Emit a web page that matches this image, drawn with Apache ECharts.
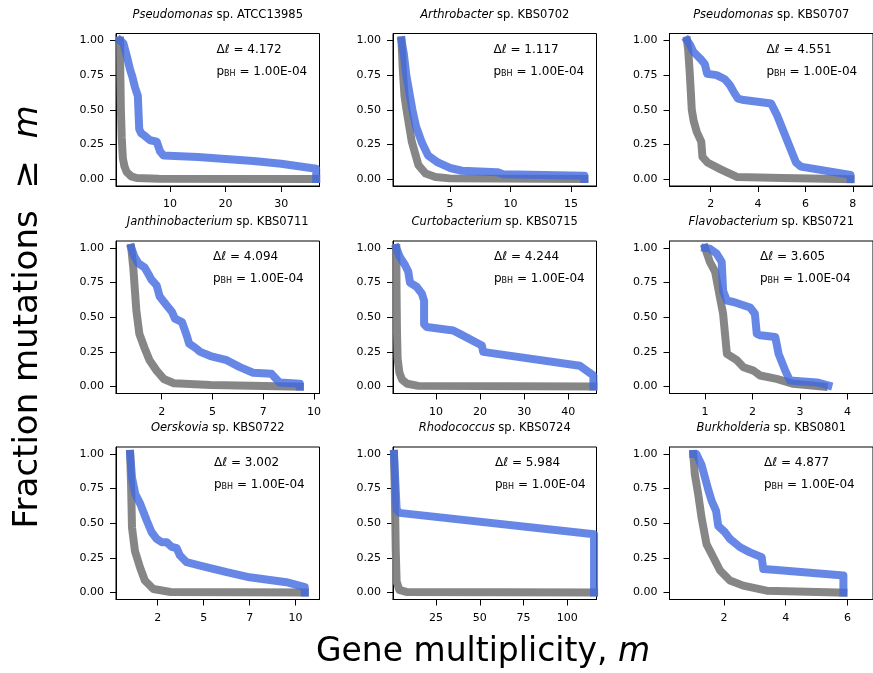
<!DOCTYPE html>
<html>
<head>
<meta charset="utf-8">
<script src="https://cdn.jsdelivr.net/npm/echarts@6/dist/echarts.min.js"></script>
<style>
  html, body { margin: 0; padding: 0; background: #fff; }
  #chart { width: 873px; height: 673px; }
</style>
</head>
<body>
<div id="chart"></div>
<script>
// panel labels
const genera = ["Pseudomonas", "Arthrobacter", "Pseudomonas", "Janthinobacterium", "Curtobacterium",
  "Flavobacterium", "Oerskovia", "Rhodococcus", "Burkholderia"];
const strains = ["ATCC13985", "KBS0702", "KBS0707", "KBS0711", "KBS0715", "KBS0721", "KBS0722", "KBS0724", "KBS0801"];
const deltaL = ["4.172", "1.117", "4.551", "4.094", "4.244", "3.605", "3.002", "5.984", "4.877"];
const pBH = "1.00E-04";

// axis ranges and ticks
const xMin = [0.27, 0.3, 0.26, 0.25, 0.25, 0.25, 0.23, 0.43, 0.23];
const xMax = [36.9, 17.1, 8.85, 10.27, 46.4, 4.54, 11.3, 116.7, 6.83];
const xTicks = [[10, 20, 30], [5, 10, 15], [2, 4, 6, 8], [2.5, 5, 7.5, 10], [10, 20, 30, 40],
  [1, 2, 3, 4], [2.5, 5, 7.5, 10], [25, 50, 75, 100], [2, 4, 6]];
const yTicks = [0, 0.25, 0.5, 0.75, 1];

// observed (blue) and null (grey) curves, [m, fraction]
const blue1 = [[1,1.0],[1.6,0.98],[2.2,0.89],[2.8,0.79],[3.2,0.74],[3.7,0.66],[4.2,0.6],[4.45,0.36],[4.8,0.33],[5.5,0.31],[6.4,0.28],[7.6,0.27],[8.2,0.2],[8.8,0.17],[15,0.16],[25,0.13],[30,0.11],[36.3,0.075],[36.3,0]];
const grey1 = [[1,1.0],[1.05,0.75],[1.15,0.5],[1.3,0.3],[1.5,0.15],[1.8,0.09],[2.2,0.05],[3,0.02],[4,0.008],[8,0.002],[36.3,0]];
const blue2 = [[1,1],[1.2,0.9],[1.4,0.75],[1.7,0.6],[1.9,0.5],[2.2,0.38],[2.7,0.26],[3.2,0.17],[4.0,0.12],[5.0,0.08],[6,0.06],[8.9,0.05],[9.4,0.035],[16.1,0.024],[16.1,0]];
const grey2 = [[1,1],[1.1,0.8],[1.25,0.6],[1.45,0.48],[1.85,0.27],[2.4,0.1],[3.0,0.04],[3.8,0.015],[5,0.005],[16.1,0]];
const blue3 = [[1,1.0],[1.12,0.97],[1.26,0.92],[1.55,0.87],[1.75,0.83],[1.85,0.76],[2.25,0.75],[2.6,0.72],[2.8,0.68],[3.0,0.62],[3.15,0.58],[3.4,0.57],[4.55,0.545],[4.8,0.46],[5.6,0.12],[5.8,0.09],[7.9,0.03],[7.9,0]];
const grey3 = [[1,1.0],[1.05,0.93],[1.12,0.75],[1.2,0.5],[1.28,0.42],[1.41,0.34],[1.6,0.27],[1.65,0.16],[1.86,0.12],[2.42,0.07],[3.1,0.015],[5,0.008],[7.9,0]];
const blue4 = [[1,1.0],[1.15,0.94],[1.35,0.89],[1.65,0.86],[1.85,0.81],[2.0,0.77],[2.25,0.73],[2.4,0.65],[2.75,0.585],[3.0,0.54],[3.15,0.49],[3.5,0.465],[3.75,0.36],[3.85,0.31],[4.15,0.28],[4.4,0.25],[4.9,0.22],[5.7,0.19],[6.35,0.14],[7.0,0.1],[7.9,0.092],[8.3,0.03],[9.3,0.02],[9.3,0]];
const grey4 = [[1,1.0],[1.1,0.86],[1.25,0.55],[1.4,0.38],[1.65,0.28],[1.9,0.19],[2.25,0.115],[2.6,0.055],[3.1,0.024],[4.9,0.012],[9.3,0]];
const blue5 = [[1,1.0],[1.8,0.935],[3.0,0.875],[3.7,0.83],[4.1,0.75],[5.6,0.72],[6.8,0.67],[7.3,0.62],[7.3,0.45],[7.9,0.43],[13.9,0.405],[15.4,0.38],[20.4,0.296],[20.7,0.25],[23.8,0.236],[42.6,0.15],[45.7,0.08],[45.7,0]];
const grey5 = [[1,1.0],[1.05,0.7],[1.15,0.4],[1.3,0.2],[1.7,0.1],[2.3,0.05],[3.5,0.02],[6,0.005],[45.7,0]];
const blue6 = [[1,1.0],[1.1,0.995],[1.24,0.96],[1.35,0.9],[1.38,0.69],[1.46,0.62],[1.6,0.61],[1.95,0.57],[2.05,0.525],[2.09,0.38],[2.16,0.37],[2.48,0.357],[2.55,0.236],[2.69,0.115],[2.79,0.043],[3.36,0.03],[3.6,0.007]];
const grey6 = [[1,1.0],[1.1,0.9],[1.21,0.83],[1.31,0.65],[1.38,0.525],[1.46,0.236],[1.67,0.19],[1.81,0.14],[2.02,0.115],[2.16,0.08],[2.51,0.055],[2.86,0.02],[3.5,0.0]];
const blue7 = [[1,1.0],[1.03,0.95],[1.1,0.83],[1.28,0.71],[1.55,0.64],[1.9,0.52],[2.17,0.435],[2.44,0.387],[2.72,0.363],[2.99,0.363],[3.26,0.33],[3.53,0.32],[3.71,0.267],[4.07,0.219],[4.8,0.195],[6.25,0.147],[7.5,0.11],[9.5,0.075],[10.5,0.04],[10.5,0]];
const grey7 = [[1,1.0],[1.05,0.78],[1.1,0.47],[1.26,0.3],[1.54,0.18],[1.8,0.087],[2.26,0.026],[3.2,0.004],[10.5,0]];
const blue8 = [[1,1.0],[1.8,0.99],[2.5,0.6],[4,0.575],[115.3,0.42],[115.3,0]];
const grey8 = [[1,1.0],[1.5,0.7],[2,0.3],[2.5,0.08],[4,0.02],[8,0.005],[115.3,0]];
const blue9 = [[1,1.0],[1.1,1.0],[1.27,0.92],[1.38,0.83],[1.49,0.74],[1.6,0.66],[1.74,0.59],[1.81,0.48],[2.03,0.435],[2.19,0.387],[2.52,0.327],[2.84,0.29],[3.22,0.255],[3.27,0.17],[3.71,0.163],[5.87,0.123],[5.87,0]];
const grey9 = [[1,1.0],[1.05,0.855],[1.16,0.71],[1.27,0.54],[1.43,0.35],[1.65,0.255],[1.87,0.159],[2.19,0.087],[2.62,0.05],[3.38,0.014],[5.87,0]];

const blues = [blue1, blue2, blue3, blue4, blue5, blue6, blue7, blue8, blue9];
const greys = [grey1, grey2, grey3, grey4, grey5, grey6, grey7, grey8, grey9];

// layout
const FONT = "DejaVu Sans";
const colLeft = [116, 393, 669.5];
const rowTop = [33.5, 241, 447];
const W = 203.5, H = 152.5;
const annotDx = [100.5, 100.5, 97, 97, 101, 90.5, 98, 102, 94.5];

const chart = echarts.init(document.getElementById("chart"));

const grids = [], xAxes = [], yAxes = [], series = [], graphics = [];
for (let i = 0; i < 9; i++) {
  const left = colLeft[i % 3], top = rowTop[Math.floor(i / 3)];
  grids.push({ left: left, top: top, width: W, height: H, show: true, borderColor: "#000", borderWidth: 1, containLabel: false });
  const halfTicks = (i === 3 || i === 6);
  xAxes.push({
    type: "value", gridIndex: i, min: xMin[i], max: xMax[i],
    axisLine: { show: true, onZero: false, lineStyle: { color: "#000", width: 1 } },
    axisTick: { show: true, length: 6, customValues: xTicks[i], lineStyle: { color: "#000", width: 1 } },
    axisLabel: {
      customValues: xTicks[i], margin: 13, fontSize: 11, color: "#000", fontFamily: FONT,
      formatter: (v) => halfTicks ? String(Math.floor(v)) : String(v)
    },
    splitLine: { show: false }
  });
  yAxes.push({
    type: "value", gridIndex: i, min: -0.05, max: 1.05,
    axisLine: { show: true, onZero: false, lineStyle: { color: "#000", width: 1 } },
    axisTick: { show: true, length: 6, customValues: yTicks, lineStyle: { color: "#000", width: 1 } },
    axisLabel: { customValues: yTicks, margin: 12, fontSize: 11, color: "#000", fontFamily: FONT, formatter: (v) => v.toFixed(2) },
    splitLine: { show: false }
  });
  series.push({
    type: "line", xAxisIndex: i, yAxisIndex: i, data: greys[i], showSymbol: false, symbol: "none",
    lineStyle: { color: "#808080", width: 8, opacity: 0.95, cap: "square", join: "round" }, z: 2
  });
  series.push({
    type: "line", xAxisIndex: i, yAxisIndex: i, data: blues[i], showSymbol: false, symbol: "none",
    lineStyle: { color: "royalblue", width: 8, opacity: 0.8, cap: "square", join: "round" }, z: 3
  });

  // panel title
  graphics.push({
    type: "text", x: left + W / 2, y: top - 18.5,
    style: {
      text: "{g|" + genera[i] + "}{n| sp. " + strains[i] + "}",
      align: "center", verticalAlign: "middle",
      rich: {
        g: { fontStyle: "italic", fontSize: 11.5, fontFamily: FONT, fill: "#000" },
        n: { fontSize: 11.5, fontFamily: FONT, fill: "#000" }
      }
    }
  });
  // annotation
  graphics.push({
    type: "text", x: left + annotDx[i], y: top + 16,
    style: {
      text: "{t|Δ}{it|ℓ}{t| = " + deltaL[i] + "}",
      align: "left", verticalAlign: "middle",
      rich: {
        t: { fontSize: 12, fontFamily: FONT, fill: "#000" },
        it: { fontSize: 12, fontStyle: "italic", fontFamily: FONT, fill: "#000" }
      }
    }
  });
  graphics.push({
    type: "text", x: left + annotDx[i], y: top + 37,
    style: {
      text: "{t|p}{s|BH}{t| = " + pBH + "}",
      align: "left", verticalAlign: "middle",
      rich: {
        t: { fontSize: 12, lineHeight: 14, verticalAlign: "bottom", fontFamily: FONT, fill: "#000" },
        s: { fontSize: 8, lineHeight: 6, verticalAlign: "bottom", fontFamily: FONT, fill: "#000" }
      }
    }
  });
}

// shared axis labels
graphics.push({
  type: "text", x: 483, y: 652,
  style: {
    text: "{n|Gene multiplicity, }{i|m}", align: "center", verticalAlign: "middle",
    rich: {
      n: { fontSize: 33, fontFamily: FONT, fill: "#000" },
      i: { fontSize: 33, fontStyle: "italic", fontFamily: FONT, fill: "#000" }
    }
  }
});
graphics.push({
  type: "text", x: 28, y: 317, rotation: Math.PI / 2,
  style: {
    text: "{n|Fraction mutations  ≥  }{i|m}", align: "center", verticalAlign: "middle",
    rich: {
      n: { fontSize: 34, fontFamily: FONT, fill: "#000" },
      i: { fontSize: 34, fontStyle: "italic", fontFamily: FONT, fill: "#000" }
    }
  }
});

chart.setOption({
  animation: false,
  backgroundColor: "#fff",
  grid: grids,
  xAxis: xAxes,
  yAxis: yAxes,
  series: series,
  graphic: graphics
});
</script>
</body>
</html>
